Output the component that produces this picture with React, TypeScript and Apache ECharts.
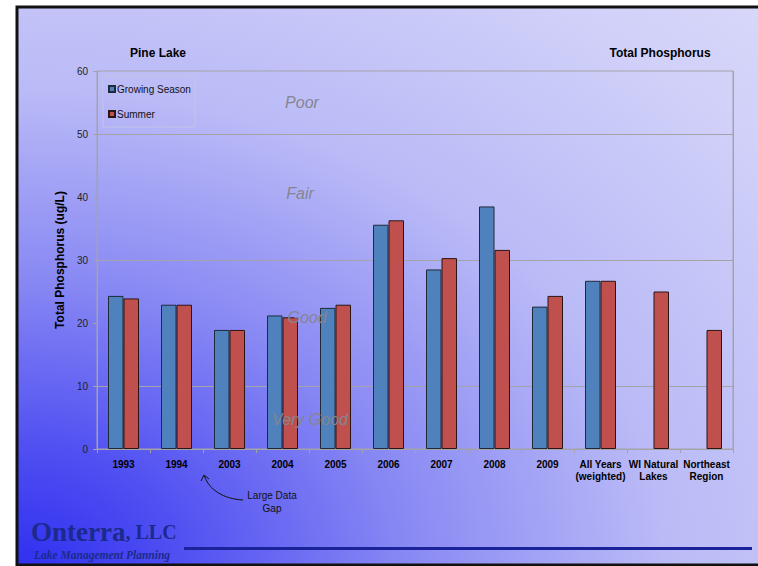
import React, { useEffect, useRef } from "react";
import * as echarts from "echarts";

// Total phosphorus, Pine Lake, ug/L
const categories = [
  "1993",
  "1994",
  "2003",
  "2004",
  "2005",
  "2006",
  "2007",
  "2008",
  "2009",
  "All Years\n(weighted)",
  "WI Natural\nLakes",
  "Northeast\nRegion",
];
const growingSeason: (number | null)[] = [24.3, 22.9, 18.9, 21.2, 22.4, 35.6, 28.5, 38.5, 22.6, 26.7, null, null];
const summer: (number | null)[] = [23.9, 22.9, 18.9, 20.9, 22.9, 36.3, 30.3, 31.6, 24.3, 26.7, 25.0, 18.9];

// trophic class boundaries
const classBoundaries = [10, 30, 50];
const yTicks = { min: 0, max: 60, interval: 10 };

const NAVY = "#1b2a8c";
const GRID_GRAY = "#a3a3a8";

export default function App() {
  const ref = useRef<HTMLDivElement>(null);

  useEffect(() => {
    if (!ref.current) return;
    const chart = echarts.init(ref.current, null, { renderer: "svg" });

    const zoneText = (text: string, x: number, y: number) => ({
      type: "text",
      x,
      y,
      z: 100,
      silent: true,
      style: {
        text,
        fill: "#858590",
        font: "italic 16px 'Liberation Sans', Arial, sans-serif",
        textAlign: "center",
        textVerticalAlign: "middle",
      },
    });

    chart.setOption({
      animation: false,
      backgroundColor: "#ffffff",
      textStyle: { fontFamily: "'Liberation Sans', Arial, sans-serif" },
      grid: {
        left: 97,
        right: 25,
        top: 71,
        bottom: 117,
        show: true,
        borderColor: GRID_GRAY,
        borderWidth: 1,
        backgroundColor: "transparent",
      },
      legend: {
        data: ["Growing Season", "Summer"],
        orient: "vertical",
        left: 103,
        top: 76,
        itemGap: 15,
        itemWidth: 6,
        itemHeight: 6,
        icon: "rect",
        padding: [8, 4, 8, 5],
        borderColor: "#c4c4e6",
        borderWidth: 1,
        textStyle: { fontSize: 10, color: "#111", padding: [0, 0, 0, -3] },
      },
      xAxis: {
        type: "category",
        data: categories,
        axisLine: { lineStyle: { color: GRID_GRAY } },
        axisTick: { show: true, length: 4, lineStyle: { color: GRID_GRAY } },
        axisLabel: {
          interval: 0,
          fontSize: 10,
          fontWeight: "bold",
          color: "#000",
          margin: 9,
          lineHeight: 12,
        },
        splitLine: {
          show: true,
          interval: (i: number) => i === 9,
          lineStyle: { color: GRID_GRAY, width: 1 },
        },
      },
      yAxis: {
        type: "value",
        min: yTicks.min,
        max: yTicks.max,
        interval: yTicks.interval,
        name: "Total Phosphorus (ug/L)",
        nameLocation: "middle",
        nameGap: 29,
        nameTextStyle: { fontSize: 12, fontWeight: "bold", color: "#000" },
        axisLine: { show: true, lineStyle: { color: GRID_GRAY } },
        axisTick: { show: true, length: 4, lineStyle: { color: GRID_GRAY } },
        axisLabel: { fontSize: 10, color: "#222", margin: 9 },
        splitLine: { show: false },
      },
      series: [
        {
          name: "Growing Season",
          type: "bar",
          data: growingSeason,
          barWidth: 15.5,
          barGap: "0%",
          itemStyle: { color: "#4f81bd", borderColor: "#1e2a3a", borderWidth: 1 },
          markLine: {
            silent: true,
            symbol: "none",
            z: 1,
            label: { show: false },
            lineStyle: { color: GRID_GRAY, type: "solid", width: 1 },
            data: classBoundaries.map((v) => ({ yAxis: v })),
          },
        },
        {
          name: "Summer",
          type: "bar",
          data: summer,
          barWidth: 15.5,
          itemStyle: { color: "#c0504d", borderColor: "#2a1515", borderWidth: 1 },
        },
      ],
      graphic: [
        {
          type: "rect",
          z: -10,
          silent: true,
          shape: { x: 17, y: 7, width: 760, height: 558 },
          style: {
            fill: {
              type: "radial",
              x: 0,
              y: 1,
              r: 1.7,
              colorStops: [
                { offset: 0, color: "#3030f0" },
                { offset: 0.12, color: "#4e4ef2" },
                { offset: 0.3, color: "#8888f4" },
                { offset: 0.5, color: "#babaf7" },
                { offset: 0.72, color: "#d0d0f9" },
                { offset: 1, color: "#e4e4fb" },
              ],
            },
            stroke: "#111111",
            lineWidth: 3,
          },
        },
        {
          type: "text",
          x: 158,
          y: 53,
          z: 100,
          style: {
            text: "Pine Lake",
            font: "bold 12px 'Liberation Sans', Arial, sans-serif",
            fill: "#000",
            textAlign: "center",
            textVerticalAlign: "middle",
          },
        },
        {
          type: "text",
          x: 660,
          y: 53,
          z: 100,
          style: {
            text: "Total Phosphorus",
            font: "bold 12px 'Liberation Sans', Arial, sans-serif",
            fill: "#000",
            textAlign: "center",
            textVerticalAlign: "middle",
          },
        },
        zoneText("Poor", 302, 102),
        zoneText("Fair", 300, 193),
        zoneText("Good", 307, 317),
        zoneText("Very Good", 310, 419),
        // "Large Data Gap" callout with curved arrow
        {
          type: "bezierCurve",
          z: 100,
          silent: true,
          shape: { x1: 243, y1: 500, x2: 204.5, y2: 476, cpx1: 224, cpy1: 499, cpx2: 209, cpy2: 490 },
          style: { stroke: "#111", lineWidth: 1, fill: "none" },
        },
        {
          type: "polyline",
          z: 100,
          silent: true,
          shape: { points: [[201, 481], [204, 475], [209, 479]] },
          style: { stroke: "#111", lineWidth: 1, fill: "none" },
        },
        {
          type: "text",
          x: 272,
          y: 502,
          z: 100,
          style: {
            text: "Large Data\nGap",
            font: "10px 'Liberation Sans', Arial, sans-serif",
            lineHeight: 13,
            fill: "#111",
            textAlign: "center",
            textVerticalAlign: "middle",
          },
        },
        // company logo
        {
          type: "text",
          x: 31,
          y: 545,
          z: 100,
          style: {
            text: "{a|Onterra}{b|, LLC}",
            textVerticalAlign: "bottom",
            rich: {
              a: { font: "bold 27px 'Liberation Serif', 'Times New Roman', serif", fill: NAVY },
              b: { font: "bold 20px 'Liberation Serif', 'Times New Roman', serif", fill: NAVY },
            },
          },
        },
        {
          type: "text",
          x: 34,
          y: 555,
          z: 100,
          style: {
            text: "Lake Management Planning",
            font: "italic bold 11.5px 'Liberation Serif', 'Times New Roman', serif",
            fill: NAVY,
            textVerticalAlign: "middle",
          },
        },
        {
          type: "line",
          z: 100,
          shape: { x1: 184, y1: 548.5, x2: 752, y2: 548.5 },
          style: { stroke: "#1a2399", lineWidth: 3 },
        },
      ],
    });

    return () => chart.dispose();
  }, []);

  return (
    <div
      ref={ref}
      style={{ position: "fixed", left: 0, top: 0, width: 758, height: 566 }}
    />
  );
}
